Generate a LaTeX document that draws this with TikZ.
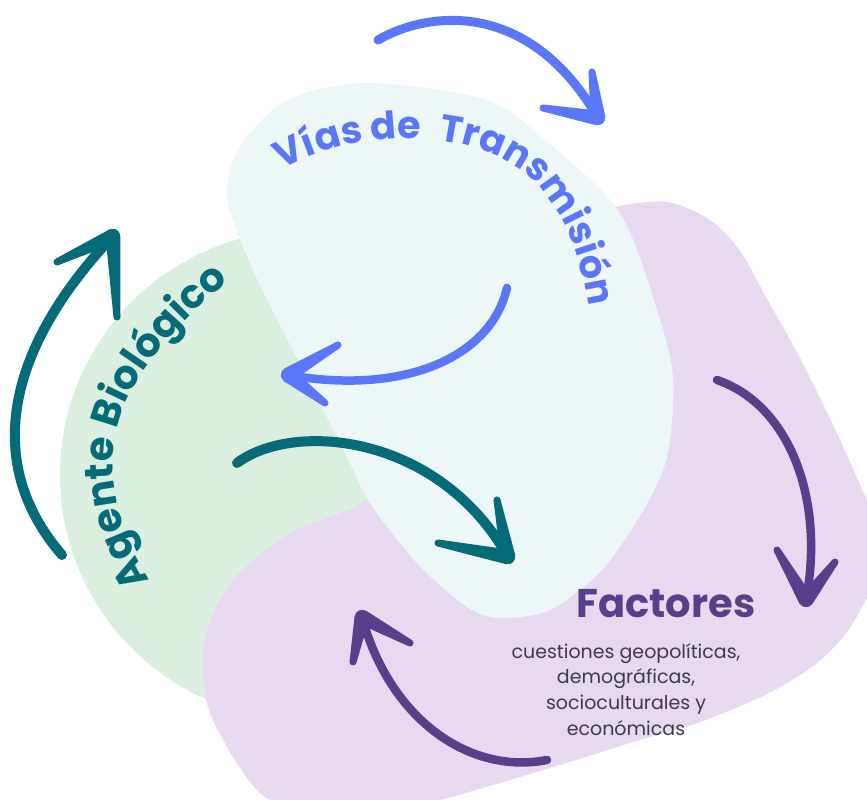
\documentclass[tikz,border=0pt]{standalone}
\usepackage{fontspec}
\setmainfont{Poppins}
\usepackage{tikz}
\usetikzlibrary{positioning}
\usetikzlibrary{calc}
\usetikzlibrary{decorations.text}

\definecolor{greenbg}{HTML}{DAEFDF}
\definecolor{cyanbg}{HTML}{EEF7F8}
\definecolor{lilacbg}{HTML}{E7DAF0}
\definecolor{vblue}{HTML}{5B77F9}
\definecolor{vteal}{HTML}{066B79}
\definecolor{vpurple}{HTML}{583F8B}
\definecolor{vgray}{HTML}{3C3B4B}

\newcommand{\bigtitle}{\fontsize{40}{40}\selectfont\bfseries}
\newcommand{\curvetitle}{\fontsize{38}{38}\selectfont\bfseries}
\newcommand{\sidetitle}{\fontsize{40}{40}\selectfont\bfseries}
\newcommand{\smalltext}{\fontsize{19}{25.7}\selectfont}

% tapered stroke from the tip #1 out to #2
\newcommand{\brushhead}[2]{%
    \fill ($(#1)!7.5pt!90:(#2)$) -- ($(#2)!3.5pt!-90:(#1)$)
        -- ($(#2)!3.5pt!90:(#1)$) -- ($(#1)!7.5pt!-90:(#2)$) -- cycle;
    \fill (#2) circle (3.5pt);
    \fill (#1) circle (7pt);}

\begin{document}
\begin{tikzpicture}[x=1pt,y=1pt,
    brush/.style={line width=10pt,line cap=round,line join=round}]
    \useasboundingbox (0,0) rectangle (867,800);
    \clip (0,0) rectangle (867,800);

    % the three blobs
    \fill[greenbg] (305,325) circle (245);
    \fill[lilacbg] plot[smooth cycle] coordinates {
        (613,592) (667,598) (710,580) (740,549) (767,501) (800,442) (833,375)
        (860,315) (885,250) (853,177) (817,137) (767,106) (700,78) (633,58)
        (550,32) (440,0) (350,-20) (270,0) (237,37) (210,87) (203,127)
        (207,170) (233,220) (290,267) (367,300) (460,380) (560,500) (600,570)};
    \fill[cyanbg] plot[smooth cycle] coordinates {
        (227,603) (240,653) (287,700) (367,717) (487,700) (553,653) (620,587)
        (657,490) (673,422) (667,343) (640,284) (600,228) (550,190) (500,182)
        (467,193) (417,237) (370,297) (347,343) (303,430) (253,530)};

    % curved titles
    \path[decorate,decoration={text along path,text color=vblue,
        text align={left indent=12pt},
        text={|\curvetitle|Vías de{\hspace{9pt}} Transmisión}}]
        (272,624) .. controls (330,665) and (450,680) .. (520,630)
        .. controls (570,595) and (590,520) .. (594,440);
    \path[decorate,decoration={text along path,text color=vteal,
        text={|\sidetitle|Agente Biológico}}]
        (150,220) .. controls (110,282) and (103,352) .. (128,402)
        .. controls (153,452) and (203,502) .. (248,532);

    \node[anchor=base,text=vpurple,font=\bigtitle] (factores) at (666,182) {Factores};
    \node[below=18pt of factores,xshift=-40pt,align=center,text=vgray,font=\smalltext]
        (cuestiones) {cuestiones geopolíticas,\\demográficas,\\socioculturales y\\económicas};

    % arrows
    \coordinate (vtA) at (378,760);
    \coordinate (vtB) at (598,682);
    \coordinate (vtB1) at (592,728);
    \coordinate (vtB2) at (543,692);
    \coordinate (viA) at (507,512);
    \coordinate (viB) at (288,425);
    \coordinate (viB1) at (338,455);
    \coordinate (viB2) at (325,397);
    \coordinate (tcA) at (237,337);
    \coordinate (tcB) at (508,243);
    \coordinate (tcB1) at (497,300);
    \coordinate (tcB2) at (438,257);
    \coordinate (tlA) at (62,245);
    \coordinate (tlB) at (113,564);
    \coordinate (tlB1) at (57,538);
    \coordinate (tlB2) at (117,483);
    \coordinate (prA) at (717,420);
    \coordinate (prB) at (806,200);
    \coordinate (prB1) at (777,250);
    \coordinate (prB2) at (835,238);
    \coordinate (pbA) at (547,40);
    \coordinate (pbB) at (362,183);
    \coordinate (pbB1) at (410,157);
    \coordinate (pbB2) at (353,138);

    \begin{scope}[color=vblue]
        \draw[brush,line width=9pt] (vtA) .. controls (430,790) and (530,800) .. (vtB);
        \brushhead{vtB}{vtB1}\brushhead{vtB}{vtB2}
        \draw[brush,line width=8.5pt] (viA) .. controls (490,440) and (400,405) .. (viB);
        \brushhead{viB}{viB1}\brushhead{viB}{viB2}
    \end{scope}

    \begin{scope}[color=vteal]
        \draw[brush] (tcA) .. controls (295,380) and (440,365) .. (tcB);
        \brushhead{tcB}{tcB1}\brushhead{tcB}{tcB2}
        \draw[brush] (tlA) .. controls (-20,340) and (10,455) .. (tlB);
        \brushhead{tlB}{tlB1}\brushhead{tlB}{tlB2}
    \end{scope}

    \begin{scope}[color=vpurple]
        \draw[brush,line width=8.5pt] (prA) .. controls (790,395) and (825,300) .. (prB);
        \brushhead{prB}{prB1}\brushhead{prB}{prB2}
        \draw[brush,line width=8.5pt] (pbA) .. controls (470,25) and (390,80) .. (pbB);
        \brushhead{pbB}{pbB1}\brushhead{pbB}{pbB2}
    \end{scope}
\end{tikzpicture}
\end{document}
